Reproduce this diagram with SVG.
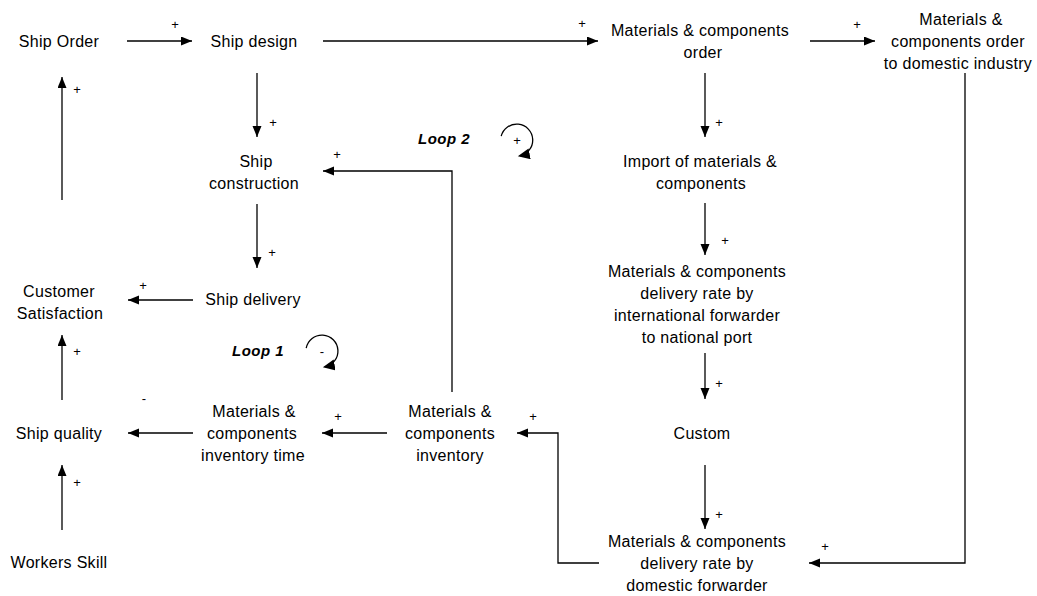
<svg xmlns="http://www.w3.org/2000/svg" width="1037" height="596" viewBox="0 0 1037 596">
<style>
  .n { font-family: "Liberation Sans", Arial, sans-serif; font-size: 16px; letter-spacing: 0.3px; fill: #000; text-anchor: middle; }
  .s { font-family: "Liberation Sans", Arial, sans-serif; font-size: 13px; fill: #000; text-anchor: middle; }
  .loop { font-family: "Liberation Sans", Arial, sans-serif; font-size: 15px; font-weight: bold; font-style: italic; letter-spacing: 0.5px; fill: #000; }
  .c { fill: none; stroke: #000; stroke-width: 1.3; }
</style>
<defs>
  <marker id="ah" markerUnits="userSpaceOnUse" markerWidth="12" markerHeight="10" refX="11" refY="4.5" orient="auto">
    <path d="M0,0 L11,4.5 L0,9 z" fill="#000"/>
  </marker>
  <marker id="lh" markerUnits="userSpaceOnUse" markerWidth="14" markerHeight="12" refX="10" refY="5.5" orient="auto">
    <path d="M0,0 L12,5.5 L0,11 z" fill="#000"/>
  </marker>
</defs>
<rect width="1037" height="596" fill="#fff"/>

<g id="connectors">
  <path class="c" d="M127,41 H192" marker-end="url(#ah)"/>
  <path class="c" d="M323,41 H598" marker-end="url(#ah)"/>
  <path class="c" d="M810,41 H875" marker-end="url(#ah)"/>
  <path class="c" d="M965,73 V563 H809" marker-end="url(#ah)"/>
  <path class="c" d="M257,73 V137" marker-end="url(#ah)"/>
  <path class="c" d="M452,392 V171 H323" marker-end="url(#ah)"/>
  <path class="c" d="M257,204 V268" marker-end="url(#ah)"/>
  <path class="c" d="M193,300 H128" marker-end="url(#ah)"/>
  <path class="c" d="M62,200 V77" marker-end="url(#ah)"/>
  <path class="c" d="M62,400 V335" marker-end="url(#ah)"/>
  <path class="c" d="M62,530 V465" marker-end="url(#ah)"/>
  <path class="c" d="M193,433 H128" marker-end="url(#ah)"/>
  <path class="c" d="M387,433 H322" marker-end="url(#ah)"/>
  <path class="c" d="M599,563 H558 V433 H517" marker-end="url(#ah)"/>
  <path class="c" d="M705,73 V137" marker-end="url(#ah)"/>
  <path class="c" d="M705,203 V255" marker-end="url(#ah)"/>
  <path class="c" d="M705,353 V399" marker-end="url(#ah)"/>
  <path class="c" d="M705,465 V529" marker-end="url(#ah)"/>

  <text class="s" x="175" y="29">+</text>
  <text class="s" x="582" y="28">+</text>
  <text class="s" x="857" y="29">+</text>
  <text class="s" x="825" y="551">+</text>
  <text class="s" x="273" y="127">+</text>
  <text class="s" x="337" y="159">+</text>
  <text class="s" x="272" y="257">+</text>
  <text class="s" x="143" y="290">+</text>
  <text class="s" x="77" y="94">+</text>
  <text class="s" x="77" y="356">+</text>
  <text class="s" x="77" y="487">+</text>
  <text class="s" x="144" y="403">-</text>
  <text class="s" x="338" y="421">+</text>
  <text class="s" x="533" y="421">+</text>
  <text class="s" x="719" y="127">+</text>
  <text class="s" x="725" y="245">+</text>
  <text class="s" x="719" y="388">+</text>
  <text class="s" x="719" y="519">+</text>
</g>

<g id="loop1">
  <text class="loop" x="232" y="356">Loop 1</text>
  <path class="c" d="M306.2,348.2 A16,16 0 1 1 324.8,366.8" marker-end="url(#lh)"/>
  <text class="s" x="322" y="356">-</text>
</g>
<g id="loop2">
  <text class="loop" x="418" y="144">Loop 2</text>
  <path class="c" d="M501.2,136.2 A16,16 0 1 1 519.8,155.8" marker-end="url(#lh)"/>
  <text class="s" x="517" y="145">+</text>
</g>

<g id="ship-order"><text class="n" x="59" y="47">Ship Order</text></g>
<g id="ship-design"><text class="n" x="254" y="47">Ship design</text></g>
<g id="mc-order"><text class="n" x="700" y="36">Materials &amp; components</text><text class="n" x="703" y="58">order</text></g>
<g id="mc-domestic"><text class="n" x="961" y="25">Materials &amp;</text><text class="n" x="958" y="47">components order</text><text class="n" x="958" y="69">to domestic industry</text></g>
<g id="ship-construction"><text class="n" x="256" y="167">Ship</text><text class="n" x="254" y="189">construction</text></g>
<g id="import"><text class="n" x="700" y="167">Import of materials &amp;</text><text class="n" x="701" y="189">components</text></g>
<g id="ship-delivery"><text class="n" x="253" y="305">Ship delivery</text></g>
<g id="customer"><text class="n" x="59" y="297">Customer</text><text class="n" x="60" y="319">Satisfaction</text></g>
<g id="intl"><text class="n" x="697" y="277">Materials &amp; components</text><text class="n" x="697" y="299">delivery rate by</text><text class="n" x="697" y="321">international forwarder</text><text class="n" x="697" y="343">to national port</text></g>
<g id="ship-quality"><text class="n" x="59" y="439">Ship quality</text></g>
<g id="inv-time"><text class="n" x="254" y="417">Materials &amp;</text><text class="n" x="252" y="439">components</text><text class="n" x="253" y="461">inventory time</text></g>
<g id="inventory"><text class="n" x="450" y="417">Materials &amp;</text><text class="n" x="450" y="439">components</text><text class="n" x="450" y="461">inventory</text></g>
<g id="custom"><text class="n" x="702" y="439">Custom</text></g>
<g id="dom-delivery"><text class="n" x="697" y="547">Materials &amp; components</text><text class="n" x="697" y="569">delivery rate by</text><text class="n" x="697" y="591">domestic forwarder</text></g>
<g id="workers"><text class="n" x="59" y="568">Workers Skill</text></g>
</svg>
